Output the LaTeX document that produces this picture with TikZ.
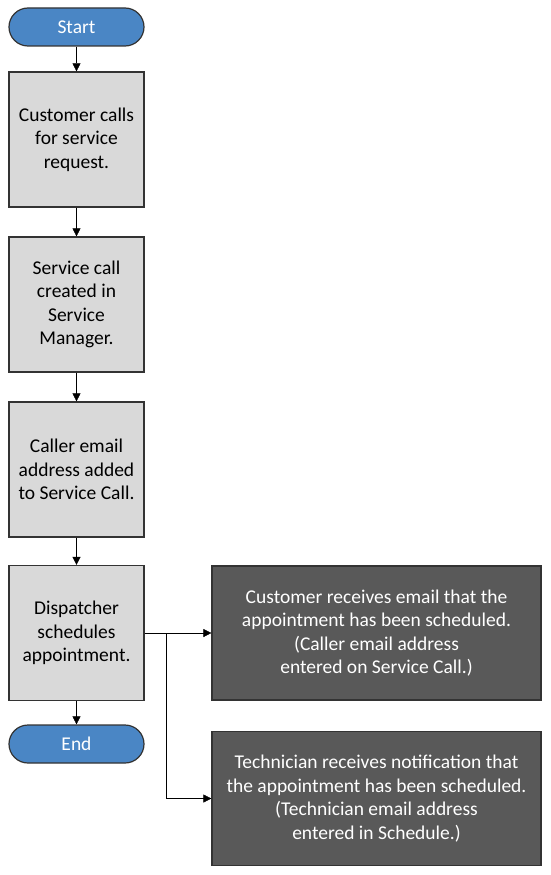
\documentclass[tikz,border=0pt]{standalone}
\usepackage{fontspec}
\setmainfont{Carlito}
\usetikzlibrary{arrows.meta}
\definecolor{pillblue}{HTML}{4A86C5}
\definecolor{stepgray}{HTML}{D9D9D9}
\definecolor{notegray}{HTML}{595959}
\tikzset{every node/.style={draw=black!80,line width=1.2pt,inner sep=0pt,align=center,
    font=\fontsize{19.5}{23.5}\selectfont},
  pill/.style={fill=pillblue,text=white,rounded corners=19pt,minimum width=135pt,minimum height=38pt},
  stepbox/.style={fill=stepgray,minimum width=135pt,minimum height=135pt},
  notebox/.style={fill=notegray,text=white,minimum width=329pt,minimum height=134pt}}

\begin{document}
\begin{tikzpicture}[x=1pt,y=-1pt]
  \useasboundingbox (0,0) rectangle (550,875);
      \node[pill] (start) at (76.5,27) {Start};
      \node[stepbox] (call) at (76.5,139.5) {Customer calls\\for service\\request.};
      \node[stepbox] (create) at (76.5,304.5) {Service call\\created in\\Service\\Manager.};
      \node[stepbox] (email) at (76.5,469.5) {Caller email\\address added\\to Service Call.};
      \node[stepbox] (dispatch) at (76.5,633) {Dispatcher\\schedules\\appointment.};
      \node[pill] (end) at (76.5,744) {End};
      \node[notebox] (cust) at (376.5,633) {Customer receives email that the\\appointment has been scheduled.\\(Caller email address\\entered on Service Call.)};
      \node[notebox] (tech) at (376.5,798.5) {Technician receives notification that\\the appointment has been scheduled.\\(Technician email address\\entered in Schedule.)};
      \coordinate (split) at (166,633);

\foreach \a/\b in {start/call,call/create,create/email,email/dispatch,dispatch/end}
  \draw[-{Triangle[length=8pt,width=8pt]}] (\a) -- (\b);
\draw (dispatch.east) -- (split);
\draw[-{Triangle[length=8pt,width=8pt]}] (split) -- (cust.west);
\draw[-{Triangle[length=8pt,width=8pt]}] (split) |- (tech.west);
    \end{tikzpicture}
\end{document}
